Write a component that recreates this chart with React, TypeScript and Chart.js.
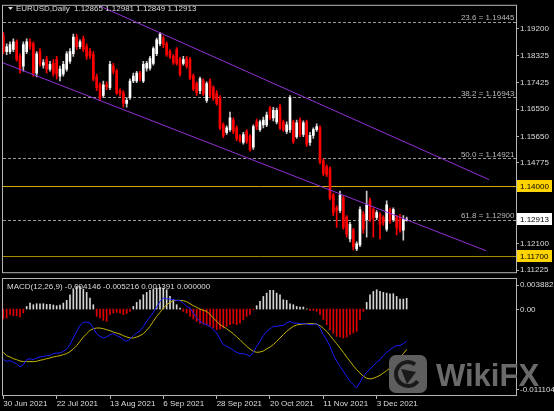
import React, { useEffect, useRef } from 'react';
import { Chart, registerables } from 'chart.js';

Chart.register(...registerables);

const FONT = "'Liberation Sans', Arial, sans-serif";

// ---- Daily EURUSD candles (30 Jun 2021 .. 16 Dec 2021) ----
const opens = [
  1.1900, 1.1845, 1.1845, 1.1852, 1.1877, 1.1829, 1.1797, 1.1845, 1.1877, 1.1871,
  1.1774, 1.1845, 1.1800, 1.1819, 1.1787, 1.1806, 1.1819, 1.1764, 1.1771, 1.1787,
  1.1813, 1.1838, 1.1893, 1.1861, 1.1887, 1.1861, 1.1845, 1.1835, 1.1761, 1.1735,
  1.1700, 1.1735, 1.1726, 1.1797, 1.1780, 1.1716, 1.1709, 1.1674, 1.1693, 1.1748,
  1.1748, 1.1774, 1.1748, 1.1790, 1.1790, 1.1806, 1.1838, 1.1871, 1.1890, 1.1871,
  1.1845, 1.1829, 1.1852, 1.1819, 1.1806, 1.1822, 1.1819, 1.1764, 1.1739, 1.1716,
  1.1748, 1.1684, 1.1748, 1.1726, 1.1706, 1.1693, 1.1603, 1.1578, 1.1587, 1.1619,
  1.1593, 1.1564, 1.1545, 1.1581, 1.1564, 1.1529, 1.1613, 1.1587, 1.1603, 1.1603,
  1.1658, 1.1626, 1.1613, 1.1661, 1.1613, 1.1581, 1.1587, 1.1613, 1.1564, 1.1619,
  1.1571, 1.1613, 1.1545, 1.1568, 1.1587, 1.1593, 1.1484, 1.1464, 1.1458, 1.1371,
  1.1329, 1.1320, 1.1361, 1.1297, 1.1226, 1.1255, 1.1193, 1.1206, 1.1307, 1.1290,
  1.1352, 1.1323, 1.1297, 1.1307, 1.1297, 1.1258, 1.1323, 1.1290, 1.1297, 1.1297,
  1.1255, 1.12865,
];
const highs = [
  1.1909, 1.1871, 1.1877, 1.1887, 1.1884, 1.1838, 1.1877, 1.1887, 1.1887, 1.1877,
  1.1845, 1.1855, 1.1819, 1.1829, 1.1813, 1.1819, 1.1829, 1.1797, 1.1813, 1.1845,
  1.1855, 1.1903, 1.1903, 1.1884, 1.1896, 1.1871, 1.1855, 1.1845, 1.1771, 1.1742,
  1.1748, 1.1745, 1.1813, 1.1806, 1.1787, 1.1722, 1.1716, 1.1693, 1.1755, 1.1774,
  1.1780, 1.1780, 1.1813, 1.1813, 1.1829, 1.1861, 1.1890, 1.1909, 1.1896, 1.1877,
  1.1852, 1.1835, 1.1858, 1.1826, 1.1829, 1.1829, 1.1826, 1.1771, 1.1745, 1.1761,
  1.1755, 1.1745, 1.1755, 1.1732, 1.1716, 1.1700, 1.1610, 1.1600, 1.1645, 1.1626,
  1.1600, 1.1571, 1.1578, 1.1587, 1.1571, 1.1603, 1.1622, 1.1619, 1.1629, 1.1645,
  1.1664, 1.1661, 1.1658, 1.1671, 1.1619, 1.1613, 1.1700, 1.1619, 1.1619, 1.1626,
  1.1616, 1.1619, 1.1578, 1.1593, 1.1606, 1.1600, 1.1490, 1.1471, 1.1464, 1.1377,
  1.1335, 1.1384, 1.1368, 1.1303, 1.1281, 1.1261, 1.1216, 1.1332, 1.1316, 1.1384,
  1.1361, 1.1329, 1.1320, 1.1313, 1.1303, 1.1352, 1.1329, 1.1329, 1.1303, 1.1307,
  1.1303, 1.12981,
];
const lows = [
  1.1838, 1.1835, 1.1838, 1.1845, 1.1813, 1.1774, 1.1780, 1.1838, 1.1852, 1.1764,
  1.1761, 1.1797, 1.1790, 1.1774, 1.1780, 1.1764, 1.1755, 1.1748, 1.1764, 1.1780,
  1.1806, 1.1829, 1.1852, 1.1855, 1.1845, 1.1819, 1.1822, 1.1748, 1.1716, 1.1684,
  1.1693, 1.1719, 1.1719, 1.1771, 1.1703, 1.1697, 1.1661, 1.1661, 1.1687, 1.1742,
  1.1742, 1.1748, 1.1742, 1.1780, 1.1784, 1.1800, 1.1832, 1.1865, 1.1858, 1.1829,
  1.1822, 1.1803, 1.1800, 1.1764, 1.1800, 1.1790, 1.1752, 1.1716, 1.1700, 1.1706,
  1.1700, 1.1677, 1.1693, 1.1684, 1.1668, 1.1587, 1.1561, 1.1571, 1.1581, 1.1574,
  1.1551, 1.1545, 1.1539, 1.1542, 1.1516, 1.1522, 1.1587, 1.1581, 1.1593, 1.1597,
  1.1619, 1.1616, 1.1606, 1.1587, 1.1581, 1.1574, 1.1578, 1.1542, 1.1558, 1.1564,
  1.1564, 1.1532, 1.1535, 1.1558, 1.1581, 1.1474, 1.1435, 1.1432, 1.1355, 1.1303,
  1.1264, 1.1313, 1.1258, 1.1232, 1.1216, 1.1190, 1.1187, 1.1200, 1.1245, 1.1232,
  1.1284, 1.1232, 1.1290, 1.1226, 1.1271, 1.1252, 1.1277, 1.1284, 1.1239, 1.1248,
  1.1222, 1.12849,
];
const closes = [
  1.1845, 1.1861, 1.1868, 1.1877, 1.1819, 1.1787, 1.1868, 1.1877, 1.1861, 1.1774,
  1.1838, 1.1806, 1.1809, 1.1787, 1.1803, 1.1774, 1.1771, 1.1787, 1.1803, 1.1838,
  1.1845, 1.1893, 1.1861, 1.1877, 1.1852, 1.1829, 1.1832, 1.1755, 1.1726, 1.1693,
  1.1735, 1.1729, 1.1803, 1.1780, 1.1709, 1.1706, 1.1674, 1.1684, 1.1748, 1.1764,
  1.1774, 1.1755, 1.1803, 1.1806, 1.1822, 1.1855, 1.1884, 1.1903, 1.1868, 1.1835,
  1.1829, 1.1809, 1.1806, 1.1771, 1.1819, 1.1797, 1.1758, 1.1722, 1.1709, 1.1755,
  1.1706, 1.1739, 1.1700, 1.1690, 1.1674, 1.1593, 1.1568, 1.1593, 1.1626, 1.1581,
  1.1558, 1.1551, 1.1571, 1.1548, 1.1522, 1.1597, 1.1597, 1.1613, 1.1619, 1.1635,
  1.1626, 1.1651, 1.1651, 1.1593, 1.1587, 1.1603, 1.1693, 1.1548, 1.1610, 1.1571,
  1.1610, 1.1539, 1.1568, 1.1587, 1.1597, 1.1480, 1.1442, 1.1438, 1.1361, 1.1313,
  1.1320, 1.1371, 1.1264, 1.1242, 1.1274, 1.1200, 1.1210, 1.1323, 1.1258, 1.1339,
  1.1290, 1.1297, 1.1313, 1.1274, 1.1281, 1.1339, 1.1287, 1.1323, 1.1264, 1.1255,
  1.1290, 1.12913,
];

// ---- MACD(12,26,9) panel ----
const macdHist = [
  -0.00129, -0.00116, -0.00073, -0.00086, -0.00086, -0.00103, -0.00052, 0.00034, 0.00077, 0.00056,
  0.00069, 0.00069, 0.00069, 0.0006, 0.0006, 0.00052, 0.00043, 0.00052, 0.00077, 0.00112,
  0.00185, 0.00258, 0.00292, 0.00292, 0.00258, 0.00215, 0.00142, 0.00056, -0.00095, -0.00116,
  -0.00146, -0.00159, -0.00073, -0.00052, -0.00043, -0.00052, -0.00073, -0.0006, -0.0003, 0.00034,
  0.00086, 0.0012, 0.00185, 0.00215, 0.00241, 0.00258, 0.00271, 0.00284, 0.00271, 0.00249,
  0.00163, 0.0012, 0.00056, 0.00013, -0.0003, -0.00052, -0.00095, -0.00129, -0.00159, -0.00181,
  -0.00195, -0.00205, -0.00224, -0.00245, -0.00267, -0.00258, -0.00245, -0.00224, -0.00202, -0.00189,
  -0.00202, -0.00181, -0.00138, -0.00095, -0.00073, -0.00009, 0.00043, 0.00099, 0.00163, 0.00206,
  0.00241, 0.00241, 0.00206, 0.00185, 0.0012, 0.00112, 0.00069, 0.00056, 0.00034, 0.00026,
  0.00026, 0.00002, -0.00017, -0.00017, -0.0003, -0.00073, -0.00138, -0.00202, -0.00267, -0.0031,
  -0.00353, -0.00361, -0.00374, -0.00361, -0.00331, -0.0031, -0.00288, -0.00138, -0.0003, 0.00086,
  0.00185, 0.00228, 0.00249, 0.00228, 0.00215, 0.00206, 0.00198, 0.00198, 0.00163, 0.00129,
  0.00129, 0.001391,
];
const macdMain = [
  -0.00654, -0.00675, -0.00667, -0.00688, -0.00705, -0.00748, -0.00718, -0.00654, -0.00641, -0.00654,
  -0.00632, -0.00619, -0.00611, -0.00602, -0.00602, -0.00576, -0.00568, -0.00568, -0.00546, -0.00516,
  -0.0046, -0.00374, -0.00288, -0.00211, -0.00172, -0.00168, -0.00181, -0.00245, -0.00318, -0.00353,
  -0.00374, -0.00361, -0.00331, -0.00318, -0.00344, -0.00361, -0.00396, -0.00417, -0.00387, -0.00344,
  -0.0031, -0.0028, -0.00224, -0.00159, -0.00103, -0.00043, 0.00026, 0.00099, 0.00142, 0.00133,
  0.00129, 0.0012, 0.00112, 0.00108, 0.00077, 0.00034, 0.00013, -0.00052, -0.00116, -0.00159,
  -0.00189, -0.00202, -0.00224, -0.00267, -0.0031, -0.00387, -0.0046, -0.00482, -0.00503, -0.00533,
  -0.00559, -0.00576, -0.00576, -0.00589, -0.00611, -0.00559, -0.00482, -0.00417, -0.00344, -0.00288,
  -0.00258, -0.00224, -0.00224, -0.00215, -0.00211, -0.00181, -0.00159, -0.00181, -0.00181, -0.00189,
  -0.00189, -0.00194, -0.00202, -0.00202, -0.00189, -0.00245, -0.00331, -0.00396, -0.00482, -0.00589,
  -0.00675, -0.0074, -0.00804, -0.00869, -0.00933, -0.00976, -0.01019, -0.00946, -0.00869, -0.00817,
  -0.00774, -0.00731, -0.00688, -0.00654, -0.00602, -0.00559, -0.00525, -0.00495, -0.00473, -0.00473,
  -0.00447, -0.004146,
];
const macdSignal = [
  -0.00559, -0.00602, -0.00619, -0.00641, -0.00654, -0.00671, -0.00679, -0.00679, -0.00679, -0.00679,
  -0.00675, -0.00662, -0.00654, -0.00641, -0.00632, -0.00619, -0.00611, -0.00602, -0.00589, -0.00576,
  -0.0055, -0.00516, -0.00473, -0.00417, -0.00361, -0.00318, -0.00275, -0.00254, -0.00245, -0.00245,
  -0.00254, -0.00267, -0.0028, -0.00297, -0.0031, -0.00323, -0.00344, -0.00361, -0.00374, -0.00374,
  -0.00361, -0.00344, -0.00318, -0.00275, -0.00224, -0.00159, -0.00095, -0.00043, 0.00013, 0.00056,
  0.00086, 0.00108, 0.00112, 0.00112, 0.00108, 0.00095, 0.00069, 0.00043, 0.00022, 0.0,
  -0.00017, -0.0003, -0.00069, -0.00116, -0.00159, -0.00202, -0.00228, -0.00254, -0.00288, -0.00318,
  -0.00361, -0.00396, -0.00439, -0.00482, -0.00516, -0.00546, -0.00559, -0.00555, -0.00542, -0.00516,
  -0.0049, -0.0046, -0.00417, -0.00374, -0.00331, -0.00288, -0.00254, -0.00224, -0.00206, -0.00198,
  -0.00194, -0.00189, -0.00189, -0.00189, -0.00194, -0.00215, -0.00249, -0.00288, -0.0034, -0.00396,
  -0.00447, -0.00503, -0.00559, -0.00619, -0.00675, -0.00731, -0.00783, -0.00826, -0.00869, -0.00894,
  -0.00903, -0.00894, -0.00877, -0.00856, -0.00826, -0.00796, -0.00761, -0.00718, -0.00675, -0.00624,
  -0.00576, -0.005216,
];
const macdExtra = 0.0;

// ---- axes / annotations ----
const priceTicks = [1.192, 1.18325, 1.17425, 1.1655, 1.1565, 1.14775, 1.13875, 1.13, 1.121, 1.11225];
const macdTicks = [0.003882, 0, -0.011104];
const dateTickIndex = [0, 16, 32, 48, 64, 80, 96, 112];
const dateTickLabels = ['30 Jun 2021', '22 Jul 2021', '13 Aug 2021', '6 Sep 2021', '28 Sep 2021', '20 Oct 2021', '11 Nov 2021', '3 Dec 2021'];
const fibLevels = ['23.6', '38.2', '50.0', '61.8'];
const fibPrices = [1.19445, 1.16943, 1.14921, 1.129];
const levelPrices = [1.14, 1.117];
const channelUpperX = [28.1, 145.7];
const channelUpperY = [1.2, 1.1422];
const channelLowerX = [-0.1, 144.8];
const channelLowerY = [1.1808, 1.1187];
const symbolLabel = 'EURUSD,Daily';
const macdLabel = 'MACD(12,26,9)';

const X_MIN = -0.1;
const X_MAX = 153.8;
const GRID = '#b4b4b4';
const TXT = '#dcdcdc';

const mainDecor = {
  id: 'mainDecor',
  beforeDatasetsDraw(chart: any) {
    const { ctx, chartArea: a, scales } = chart;
    const y = scales.y;
    ctx.save();
    ctx.beginPath();
    ctx.rect(a.left, a.top, a.right - a.left, a.bottom - a.top);
    ctx.clip();
    ctx.lineWidth = 1;
    ctx.strokeStyle = '#9a9a9a';
    ctx.setLineDash([3, 2]);
    fibPrices.forEach((p) => {
      const yy = Math.round(y.getPixelForValue(p)) + 0.5;
      ctx.beginPath();
      ctx.moveTo(a.left, yy);
      ctx.lineTo(a.right, yy);
      ctx.stroke();
    });
    ctx.setLineDash([]);
    const lvlColors = ['#d2aa00', '#a88a00'];
    levelPrices.forEach((p, i) => {
      const yy = Math.round(y.getPixelForValue(p)) + 0.5;
      ctx.strokeStyle = lvlColors[i];
      ctx.beginPath();
      ctx.moveTo(a.left, yy);
      ctx.lineTo(a.right, yy);
      ctx.stroke();
    });
    ctx.font = `8px ${FONT}`;
    ctx.fillStyle = '#b8b8b8';
    ctx.textAlign = 'right';
    ctx.textBaseline = 'alphabetic';
    fibLevels.forEach((lv, i) => {
      const yy = y.getPixelForValue(fibPrices[i]);
      ctx.fillText(`${lv} = ${fibPrices[i].toFixed(5)}`, a.right - 1.5, yy - 1.5);
    });
    ctx.restore();
  },
  afterDraw(chart: any) {
    const { ctx, chartArea: a, scales } = chart;
    const y = scales.y;
    ctx.save();
    ctx.strokeStyle = GRID;
    ctx.lineWidth = 1;
    ctx.strokeRect(a.left - 0.5, a.top - 0.5, a.right - a.left + 1, a.bottom - a.top + 1);
    const boxes = [
      { v: levelPrices[0], fill: '#ffd400' },
      { v: levelPrices[1], fill: '#ffd400' },
      { v: closes[closes.length - 1], fill: '#ffffff' },
    ];
    ctx.font = `8px ${FONT}`;
    ctx.textAlign = 'left';
    ctx.textBaseline = 'middle';
    boxes.forEach((b) => {
      const yy = Math.round(y.getPixelForValue(b.v));
      ctx.fillStyle = b.fill;
      ctx.fillRect(a.right + 1, yy - 6, 35, 12);
      ctx.fillStyle = '#000000';
      ctx.fillText(b.v.toFixed(5), a.right + 4, yy + 0.5);
    });
    // header
    ctx.fillStyle = TXT;
    ctx.beginPath();
    ctx.moveTo(8, 7);
    ctx.lineTo(13, 7);
    ctx.lineTo(10.5, 10);
    ctx.closePath();
    ctx.fill();
    const n = closes.length - 1;
    ctx.fillText(symbolLabel, 16, 8.5);
    ctx.fillText(
      [opens[n], highs[n], lows[n], closes[n]].map((v) => v.toFixed(5)).join(' '),
      74,
      8.5
    );
    ctx.restore();
  },
};

const macdDecor = {
  id: 'macdDecor',
  afterDraw(chart: any) {
    const { ctx, chartArea: a, scales } = chart;
    const y = scales.y;
    ctx.save();
    ctx.strokeStyle = GRID;
    ctx.lineWidth = 1;
    ctx.strokeRect(a.left - 0.5, a.top - 0.5, a.right - a.left + 1, a.bottom - a.top + 1);
    ctx.font = `8px ${FONT}`;
    ctx.fillStyle = TXT;
    ctx.textAlign = 'left';
    ctx.textBaseline = 'middle';
    const n = macdMain.length - 1;
    ctx.fillText(
      `${macdLabel} ${macdMain[n].toFixed(6)} ${macdSignal[n].toFixed(6)} ${macdHist[n].toFixed(6)} ${macdExtra.toFixed(6)}`,
      7,
      a.top + 7.5
    );
    // axis labels: top & bottom are pinned inside the panel edges
    const ys = [a.top + 5.5, Math.round(y.getPixelForValue(0)), a.bottom - 6];
    macdTicks.forEach((v, i) => {
      const label = v === 0 ? '0.00' : v.toFixed(6);
      ctx.fillStyle = TXT;
      ctx.fillText(label, a.right + 4, ys[i] + 0.5);
      ctx.beginPath();
      ctx.moveTo(a.right + 1, Math.round(ys[i]) + 0.5);
      ctx.lineTo(a.right + 3, Math.round(ys[i]) + 0.5);
      ctx.stroke();
    });
    // watermark
    const wx = 389;
    const wy = 77;
    ctx.fillStyle = '#5e5e5e';
    ctx.beginPath();
    (ctx as any).roundRect(wx, wy, 38, 38, 7);
    ctx.fill();
    ctx.strokeStyle = '#1a1a1a';
    ctx.lineWidth = 4;
    ctx.beginPath();
    ctx.arc(wx + 19, wy + 19, 12, Math.PI * 0.2, Math.PI * 1.7);
    ctx.stroke();
    ctx.fillStyle = '#1a1a1a';
    ctx.beginPath();
    ctx.moveTo(wx + 12, wy + 14);
    ctx.lineTo(wx + 27, wy + 17);
    ctx.lineTo(wx + 18, wy + 29);
    ctx.closePath();
    ctx.fill();
    ctx.fillStyle = '#6a6a6a';
    ctx.font = `bold 31px ${FONT}`;
    ctx.textBaseline = 'alphabetic';
    ctx.fillText('WikiFX', 436, 108);
    ctx.restore();
  },
};

export default function App() {
  const mainRef = useRef<HTMLCanvasElement>(null);
  const macdRef = useRef<HTMLCanvasElement>(null);

  useEffect(() => {
    const idx = closes.map((_, i) => i);
    const bull = idx.map((i) => closes[i] >= opens[i]);
    const c1 = new Chart(mainRef.current as HTMLCanvasElement, {
      type: 'bar',
      data: {
        datasets: [
          {
            type: 'line',
            data: channelUpperX.map((x, i) => ({ x, y: channelUpperY[i] })),
            borderColor: '#9430d4',
            borderWidth: 1,
            pointRadius: 0,
            order: 0,
          } as any,
          {
            type: 'line',
            data: channelLowerX.map((x, i) => ({ x, y: channelLowerY[i] })),
            borderColor: '#9430d4',
            borderWidth: 1,
            pointRadius: 0,
            order: 0,
          } as any,
          {
            type: 'bar',
            data: idx.map((i) => ({ x: i, y: [opens[i], closes[i]] })),
            backgroundColor: idx.map((i) => (bull[i] ? '#ffffff' : '#ff0000')),
            borderWidth: 0,
            barThickness: 2,
            grouped: false,
            order: 1,
          } as any,
          {
            type: 'bar',
            data: idx.map((i) => ({ x: i, y: [lows[i], highs[i]] })),
            backgroundColor: idx.map((i) => (bull[i] ? '#c8c8c8' : '#ff0000')),
            borderWidth: 0,
            barThickness: 1,
            grouped: false,
            order: 2,
          } as any,
        ],
      },
      options: {
        animation: false,
        responsive: false,
        devicePixelRatio: 1,
        events: [],
        layout: { padding: { left: 3, top: 3, right: 0, bottom: 2 } },
        plugins: { legend: { display: false }, tooltip: { enabled: false } },
        scales: {
          x: {
            type: 'linear',
            min: X_MIN,
            max: X_MAX,
            offset: false,
            display: false,
            grid: { offset: false },
          },
          y: {
            type: 'linear',
            position: 'right',
            min: 1.1116,
            max: 1.19964,
            afterBuildTicks: (s: any) => {
              s.ticks = priceTicks.map((v) => ({ value: v }));
            },
            afterFit: (s: any) => {
              s.width = 38;
            },
            ticks: {
              autoSkip: false,
              padding: 1,
              color: TXT,
              font: { family: FONT, size: 8 },
              callback: (v: any) => Number(v).toFixed(5),
            },
            grid: { drawOnChartArea: false, drawTicks: true, tickLength: 3, color: GRID },
            border: { display: false },
          },
        },
      } as any,
      plugins: [mainDecor],
    });

    const c2 = new Chart(macdRef.current as HTMLCanvasElement, {
      type: 'bar',
      data: {
        datasets: [
          {
            type: 'line',
            data: idx.map((i) => ({ x: i, y: macdMain[i] })),
            borderColor: '#1c1cff',
            borderWidth: 1,
            pointRadius: 0,
            tension: 0,
            order: 0,
          } as any,
          {
            type: 'line',
            data: idx.map((i) => ({ x: i, y: macdSignal[i] })),
            borderColor: '#c4b400',
            borderWidth: 1,
            pointRadius: 0,
            tension: 0,
            order: 0,
          } as any,
          {
            type: 'bar',
            data: idx.map((i) => ({ x: i, y: macdHist[i] })),
            backgroundColor: idx.map((i) => (macdHist[i] >= 0 ? '#d4d4d4' : '#e00000')),
            borderWidth: 0,
            barThickness: 1,
            grouped: false,
            order: 1,
          } as any,
        ],
      },
      options: {
        animation: false,
        responsive: false,
        devicePixelRatio: 1,
        events: [],
        layout: { padding: { left: 3, top: 1, right: 0, bottom: 0 } },
        plugins: { legend: { display: false }, tooltip: { enabled: false } },
        scales: {
          x: {
            type: 'linear',
            min: X_MIN,
            max: X_MAX,
            offset: false,
            afterBuildTicks: (s: any) => {
              s.ticks = dateTickIndex.map((v) => ({ value: v }));
            },
            afterFit: (s: any) => {
              s.height = 16;
            },
            ticks: {
              autoSkip: false,
              maxRotation: 0,
              minRotation: 0,
              align: 'start',
              padding: 0,
              color: TXT,
              font: { family: FONT, size: 8 },
              callback: (v: any) => {
                const k = dateTickIndex.indexOf(Number(v));
                return k >= 0 ? dateTickLabels[k] : '';
              },
            },
            grid: { drawOnChartArea: false, drawTicks: true, tickLength: 4, color: GRID, offset: false },
            border: { display: false },
          },
          y: {
            type: 'linear',
            position: 'right',
            min: macdTicks[2],
            max: macdTicks[0],
            afterFit: (s: any) => {
              s.width = 38;
            },
            ticks: { display: false },
            grid: { display: false },
            border: { display: false },
          },
        },
      } as any,
      plugins: [macdDecor],
    });

    return () => {
      c1.destroy();
      c2.destroy();
    };
  }, []);

  return (
    <div
      style={{
        position: 'fixed',
        left: 0,
        top: 0,
        width: 554,
        height: 411,
        background: '#000000',
        overflow: 'hidden',
      }}
    >
      <canvas
        ref={mainRef}
        width={554}
        height={278}
        style={{ position: 'absolute', left: 0, top: 0, width: 554, height: 278 }}
      />
      <canvas
        ref={macdRef}
        width={554}
        height={133}
        style={{ position: 'absolute', left: 0, top: 278, width: 554, height: 133 }}
      />
    </div>
  );
}
